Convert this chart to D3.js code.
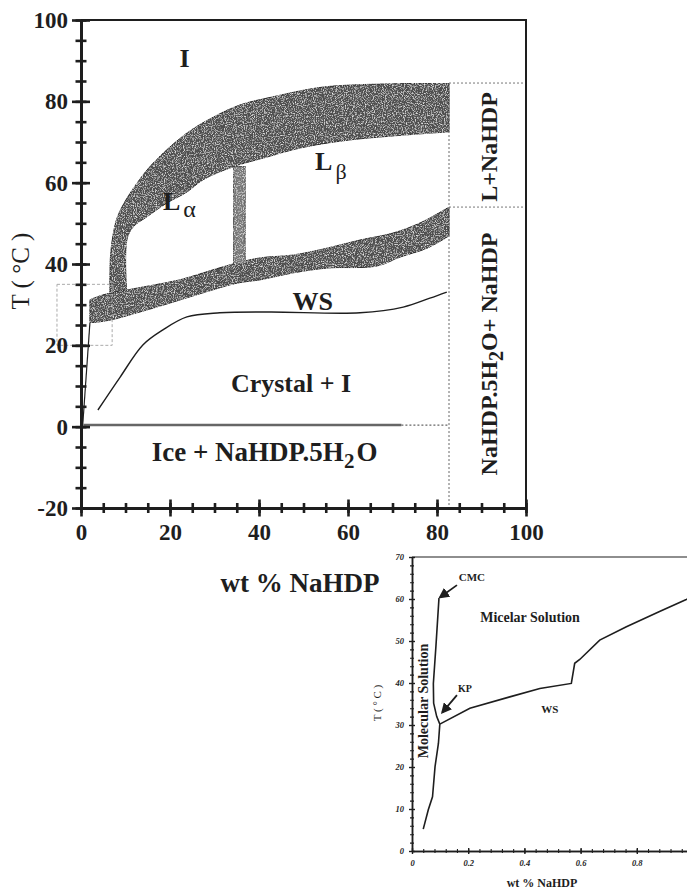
<!DOCTYPE html>
<html>
<head>
<meta charset="utf-8">
<script src="https://cdn.jsdelivr.net/npm/d3@7"></script>
<style>
  body { margin: 0; background: #fff; }
  svg { display: block; font-family: "Liberation Serif", "Times New Roman", serif; }
</style>
</head>
<body>
<svg id="chart" width="687" height="891"></svg>
<script>
(function() {
  // main diagram, [wt % NaHDP, T in deg C]
  var upperBandOuter = [[6.5, 31], [6.6, 41.5], [7.2, 47.1], [8.1, 51.3], [9.7, 55], [12.6, 59.9], [16.2, 64.8],
    [23.8, 72.2], [29.7, 76.1], [35.7, 79.1], [43.1, 81.1], [53, 83.3], [60.4, 84], [82.7, 84.5]];
  var upperBandInner = [[10.3, 32], [10.3, 45.9], [11.7, 49.1], [14.8, 51.6], [19.3, 55], [23.8, 57.7], [27.4, 60.7],
    [34.2, 63.9], [41.8, 66.3], [49.2, 68.5], [60.4, 70.5], [82.7, 72.5]];
  var lowerBandTop = [[2, 31.2], [4.9, 32.4], [10.3, 33.6], [16.2, 34.8], [22.2, 36.1], [27.4, 37.8], [33.5, 39.8],
    [40.2, 41.5], [47.6, 42.2], [55.3, 43.9], [62.7, 45.9], [70.1, 47.6], [76.2, 50.1], [82.7, 54]];
  var lowerBandBottom = [[2, 25.5], [6.5, 26.2], [12.6, 28], [20, 30.4], [27.4, 32.9], [35.1, 35.3], [40.2, 36.1],
    [47.6, 37.8], [55.3, 39], [66.5, 39.5], [71.7, 41.7], [77.8, 43.9], [82.7, 46.9]];
  var barWt = [34.2, 36.9];
  var barT = [40, 64];
  var crystalLine = [[3.8, 4.1], [8.8, 12.2], [13.9, 20.1], [18.4, 23.8], [23.8, 27], [31.2, 28], [42.5, 28.2],
    [62.7, 28], [72.4, 29.4], [78.4, 31.6], [82.2, 33.1]];
  var steepLine = [[0.4, 0.6], [2, 25.5]];
  var iceLine = [[0.5, 0.4], [72, 0.4]];
  var iceLineDotted = [[72, 0.4], [82.7, 0.4]];
  var hydrateWt = 82.7;
  var rightSplitT = [84.5, 54];
  var insetBoxWt = [-5.4, 7];
  var insetBoxT = [20, 35];
  var mainTicks = [0, 20, 40, 60, 80, 100];
  var mainTicksT = [-20, 0, 20, 40, 60, 80, 100];

  // inset, [wt % NaHDP, T in deg C]
  var molecularLine = [[0.040, 5.2], [0.058, 9.8], [0.073, 12.9], [0.082, 20.1], [0.094, 25.6], [0.099, 30.2]];
  var cmcLine = [[0.099, 30.2], [0.088, 32], [0.077, 35.2], [0.076, 39.9], [0.085, 48.6], [0.096, 60.2]];
  var wsLine = [[0.099, 30.2], [0.206, 34], [0.348, 36.7], [0.455, 38.7], [0.567, 39.9], [0.579, 44.7], [0.597, 45.6],
    [0.668, 50.2], [0.763, 53.4], [0.881, 57], [0.976, 59.9], [1.0, 60.7]];
  var cmcArrow = [[0.16, 63.3], [0.100, 60.4]];
  var kpArrow = [[0.16, 37.1], [0.108, 33]];
  var insetTicksX = [0, 0.2, 0.4, 0.6, 0.8];
  var insetTicksT = [0, 10, 20, 30, 40, 50, 60, 70];

  var svg = d3.select("svg#chart");
  var ink = "#1e1e1e";

  var x = d3.scaleLinear().domain([0, 100]).range([81, 526]);
  var y = d3.scaleLinear().domain([-20, 100]).range([508, 20]);

  // grainy fill for the two-phase bands
  var defs = svg.append("defs");
  var grain = defs.append("filter").attr("id", "grain").attr("x", 0).attr("y", 0).attr("width", "100%").attr("height", "100%");
  grain.append("feTurbulence").attr("type", "fractalNoise").attr("baseFrequency", 0.9).attr("numOctaves", 2).attr("seed", 4).attr("result", "noise");
  grain.append("feColorMatrix").attr("in", "noise").attr("type", "matrix")
    .attr("values", "0 0 0 0 1  0 0 0 0 1  0 0 0 0 1  0 0 0 2.2 -1.05").attr("result", "speck");
  grain.append("feComposite").attr("in", "speck").attr("in2", "SourceGraphic").attr("operator", "in").attr("result", "clipped");
  var merge = grain.append("feMerge");
  merge.append("feMergeNode").attr("in", "SourceGraphic");
  merge.append("feMergeNode").attr("in", "clipped");

  var path = d3.line().x(function(d) { return x(d[0]); }).y(function(d) { return y(d[1]); });
  var smooth = d3.line().x(function(d) { return x(d[0]); }).y(function(d) { return y(d[1]); }).curve(d3.curveCatmullRom.alpha(0.5));

  var band = function(a, b) {
    return smooth(a) + "L" + smooth(b.slice().reverse()).slice(1) + "Z";
  };

  var bands = svg.append("g");
  bands.append("path").attr("d", band(upperBandOuter, upperBandInner))
    .style("fill", "#505050").style("stroke", "#2a2a2a").style("stroke-width", 1).attr("filter", "url(#grain)");
  bands.append("path").attr("d", band(lowerBandTop, lowerBandBottom))
    .style("fill", "#505050").style("stroke", "#2a2a2a").style("stroke-width", 1).attr("filter", "url(#grain)");
  bands.append("rect").attr("x", x(barWt[0])).attr("y", y(barT[1]))
    .attr("width", x(barWt[1]) - x(barWt[0])).attr("height", y(barT[0]) - y(barT[1]))
    .style("fill", "#777").style("stroke", "#3a3a3a").style("stroke-width", 0.8).attr("filter", "url(#grain)");

  svg.append("path").attr("d", smooth(crystalLine)).style("fill", "none").style("stroke", ink).style("stroke-width", 1.4);
  svg.append("path").attr("d", path(steepLine)).style("fill", "none").style("stroke", ink).style("stroke-width", 1.2);
  svg.append("path").attr("d", path(iceLine)).style("fill", "none").style("stroke", "#666").style("stroke-width", 2.4);
  svg.append("path").attr("d", path(iceLineDotted)).style("fill", "none").style("stroke", "#666")
    .style("stroke-width", 1.2).style("stroke-dasharray", "2,2");

  // right-hand two-phase fields
  svg.append("line").attr("x1", x(hydrateWt)).attr("x2", x(hydrateWt)).attr("y1", y(rightSplitT[0])).attr("y2", y(-20))
    .style("stroke", "#666").style("stroke-width", 1).style("stroke-dasharray", "2,2");
  svg.selectAll("line.split").data(rightSplitT).enter().append("line").classed("split", true)
    .attr("x1", x(hydrateWt)).attr("x2", x(100)).attr("y1", y).attr("y2", y)
    .style("stroke", "#777").style("stroke-width", 1).style("stroke-dasharray", "2,2");

  svg.append("rect").attr("x", x(insetBoxWt[0])).attr("y", y(insetBoxT[1]))
    .attr("width", x(insetBoxWt[1]) - x(insetBoxWt[0])).attr("height", y(insetBoxT[0]) - y(insetBoxT[1]))
    .style("fill", "none").style("stroke", "#aaa").style("stroke-width", 1).style("stroke-dasharray", "3,2");

  // frame
  svg.append("path").attr("d", "M" + x(0) + "," + y(100) + "H" + x(100) + "V" + y(-20))
    .style("fill", "none").style("stroke", ink).style("stroke-width", 2);

  // axes, drawn twice so the ticks cross the line
  var crossAxis = function(maker, scale, values, size, pad, fmt, at, width) {
    var outer = svg.append("g").attr("transform", at)
      .call(maker(scale).tickValues(values).tickSize(size).tickPadding(pad).tickSizeOuter(0).tickFormat(fmt));
    var inner = svg.append("g").attr("transform", at)
      .call(maker(scale).tickValues(values).tickSize(-size).tickSizeOuter(0).tickFormat(""));
    [outer, inner].forEach(function(a) {
      a.selectAll("path, line").attr("stroke", ink).attr("stroke-width", width);
    });
    return outer;
  };
  var plain = function(d) { return String(d); };
  var bottomAt = "translate(0," + y(-20) + ")", leftAt = "translate(" + x(0) + ",0)";

  crossAxis(d3.axisBottom, x, d3.range(0, 101, 5), 5, 0, "", bottomAt, 2.6);
  crossAxis(d3.axisLeft, y, d3.range(-20, 101, 5), 5.5, 0, "", leftAt, 2.6);
  var xAxis = crossAxis(d3.axisBottom, x, mainTicks, 8.5, 7.5, plain, bottomAt, 2.6);
  var yAxis = crossAxis(d3.axisLeft, y, mainTicksT, 9, 4, plain, leftAt, 2.6);
  [xAxis, yAxis].forEach(function(a) {
    a.selectAll("text").style("font-family", "Liberation Serif").style("font-size", "23px")
      .style("font-weight", "bold").style("fill", ink);
  });

  svg.append("text").attr("transform", "translate(29," + 271 + ") rotate(-90)")
    .attr("text-anchor", "middle").style("font-size", "25px").style("fill", ink).text("T ( °C )");
  svg.append("text").attr("x", 300).attr("y", 592).attr("text-anchor", "middle")
    .style("font-size", "27px").style("font-weight", "bold").style("fill", ink).text("wt % NaHDP");

  var label = function(wt, t, size, anchor) {
    return svg.append("text").attr("x", x(wt)).attr("y", y(t)).attr("text-anchor", anchor || "middle")
      .style("font-size", size + "px").style("font-weight", "bold").style("fill", ink);
  };
  label(23.3, 88.4, 26).text("I");
  var la = label(18.4, 53.4, 26, "start").text("L");
  la.append("tspan").attr("dx", 3).attr("dy", 7).style("font-weight", "normal").style("font-size", "24px").text("α");
  var lb = label(52.6, 63.2, 26, "start").text("L");
  lb.append("tspan").attr("dx", 3).attr("dy", 9).style("font-weight", "normal").style("font-size", "22px").text("β");
  label(52.1, 28.6, 26).text("WS");
  label(47.2, 8.6, 26).text("Crystal + I");
  var ice = label(15.9, -8.4, 27, "start").text("Ice + NaHDP.5H");
  ice.append("tspan").attr("dy", 7).style("font-size", "21px").text("2");
  ice.append("tspan").attr("dy", -7).attr("dx", 2).text("O");

  var vlabel = function(cy, size) {
    return svg.append("text").attr("transform", "translate(497," + cy + ") rotate(-90)").attr("text-anchor", "middle")
      .style("font-size", size + "px").style("font-weight", "bold").style("fill", ink);
  };
  vlabel(147, 24).text("L+NaHDP");
  var hyd = vlabel(354, 24).text("NaHDP.5H");
  hyd.append("tspan").attr("dy", 6).style("font-size", "20px").text("2");
  hyd.append("tspan").attr("dy", -6).text("O+ NaHDP");

  // inset: low concentration detail
  var xi = d3.scaleLinear().domain([0, 1]).range([412, 693]);
  var yi = d3.scaleLinear().domain([0, 70]).range([851, 557]);
  var ipath = d3.line().x(function(d) { return xi(d[0]); }).y(function(d) { return yi(d[1]); });

  svg.append("path").attr("d", "M" + xi(0) + "," + yi(70) + "H687")
    .style("fill", "none").style("stroke", ink).style("stroke-width", 1.2);

  var iBottom = "translate(0," + yi(0) + ")", iLeft = "translate(" + xi(0) + ",0)";
  var insetFmt = function(d) { return d === 0 ? "0" : d3.format(".1f")(d); };
  crossAxis(d3.axisBottom, xi, d3.range(0, 0.99, 0.04), 2, 0, "", iBottom, 1.1);
  crossAxis(d3.axisLeft, yi, d3.range(0, 71, 2), 2, 0, "", iLeft, 1.1);
  var ixAxis = crossAxis(d3.axisBottom, xi, insetTicksX, 3, 6, insetFmt, iBottom, 1.4);
  var iyAxis = crossAxis(d3.axisLeft, yi, insetTicksT, 3, 5, plain, iLeft, 1.4);
  [ixAxis, iyAxis].forEach(function(a) {
    a.selectAll("text").style("font-family", "Liberation Serif").style("font-size", "8.5px")
      .style("font-weight", "bold").style("font-style", "italic").style("fill", ink);
  });

  [molecularLine, cmcLine, wsLine].forEach(function(d) {
    svg.append("path").attr("d", ipath(d)).style("fill", "none").style("stroke", ink).style("stroke-width", 1.6);
  });

  defs.append("marker").attr("id", "head").attr("viewBox", "0 0 10 10").attr("refX", 8).attr("refY", 5)
    .attr("markerWidth", 6).attr("markerHeight", 6).attr("orient", "auto")
    .append("path").attr("d", "M0,0L10,5L0,10Z").style("fill", ink);
  [cmcArrow, kpArrow].forEach(function(d) {
    svg.append("path").attr("d", ipath(d)).attr("marker-end", "url(#head)")
      .style("fill", "none").style("stroke", ink).style("stroke-width", 1.8);
  });

  var ilabel = function(wt, t, size, anchor) {
    return svg.append("text").attr("x", xi(wt)).attr("y", yi(t)).attr("text-anchor", anchor || "middle")
      .style("font-size", size + "px").style("font-weight", "bold").style("fill", ink);
  };
  ilabel(0.213, 64.2, 11).text("CMC");
  ilabel(0.188, 37.9, 10).text("KP");
  ilabel(0.42, 54.5, 14).text("Micelar Solution");
  ilabel(0.49, 32.9, 11).text("WS");
  svg.append("text").attr("transform", "translate(428," + 701 + ") rotate(-90)").attr("text-anchor", "middle")
    .style("font-size", "14px").style("font-weight", "bold").style("fill", ink).text("Molecular Solution");
  svg.append("text").attr("transform", "translate(381," + 703 + ") rotate(-90)").attr("text-anchor", "middle")
    .style("font-size", "11px").style("fill", ink).text("T ( ° C )");
  svg.append("text").attr("x", 542).attr("y", 887).attr("text-anchor", "middle")
    .style("font-size", "12px").style("font-weight", "bold").style("fill", ink).text("wt % NaHDP");

}).call(this);
</script>
</body>
</html>
